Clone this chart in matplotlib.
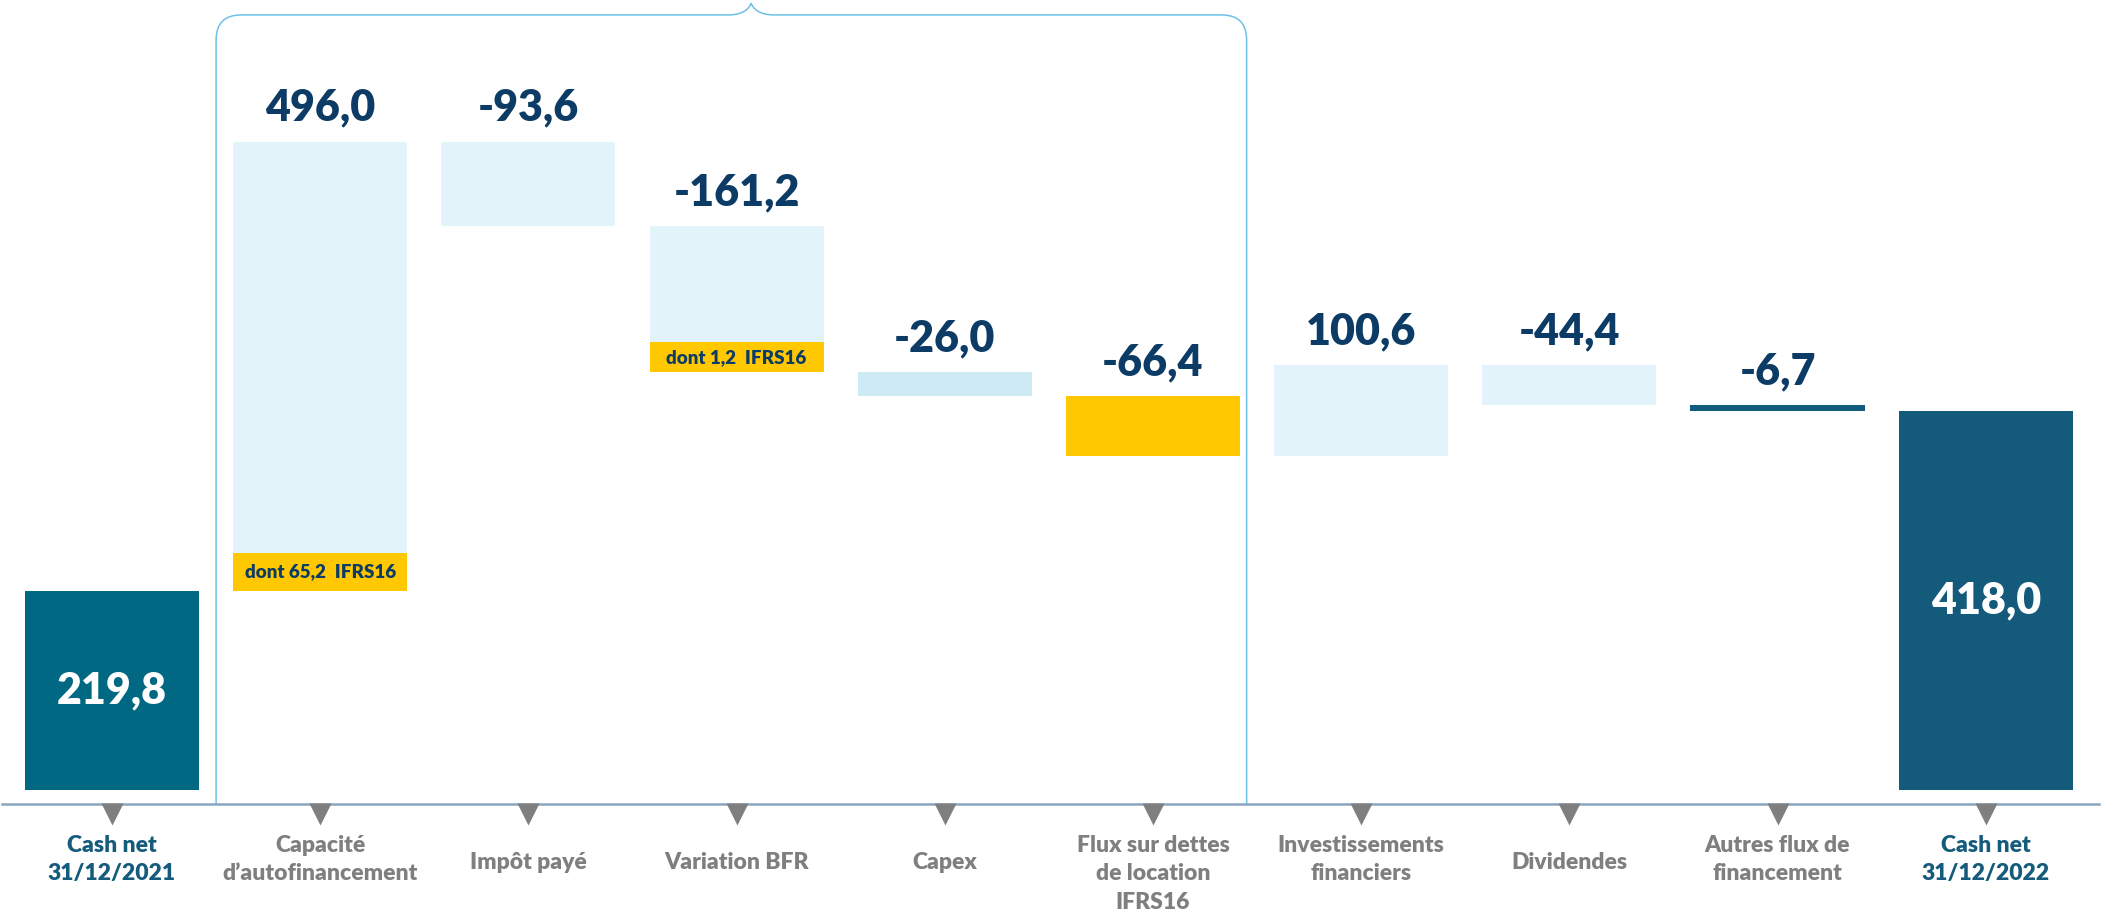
import numpy as np
import matplotlib
matplotlib.use("Agg")
import matplotlib.pyplot as plt
from matplotlib.path import Path
from matplotlib.patches import PathPatch

plt.rcParams['font.family'] = ['Lato', 'DejaVu Sans']

# données (M€)
categories = ["Cash net\n31/12/2021", "Capacité\nd\u2019autofinancement", "Impôt payé",
              "Variation BFR", "Capex", "Flux sur dettes\nde location\nIFRS16",
              "Investissements\nfinanciers", "Dividendes", "Autres flux de\nfinancement",
              "Cash net\n31/12/2022"]
values = [219.8, 496.0, -93.6, -161.2, -26.0, -66.4, 100.6, -44.4, -6.7, 418.0]
is_total = [True, False, False, False, False, False, False, False, False, True]
notes = {1: "dont 65,2  IFRS16", 3: "dont 1,2  IFRS16"}

bar_colors = ['#006882', '#e2f3fa', '#e2f3fa', '#e2f3fa', '#cdeaf5',
              '#ffc800', '#e2f3fa', '#e2f3fa', '#145a7a', '#145a7a']
note_h = {1: 42, 3: 33}
navy = '#0c3c66'
grey = '#7f7f7f'
blue_lbl = '#155b7b'

fig = plt.figure(figsize=(21.05, 9.18), dpi=100)
ax = fig.add_axes([0, 0, 1, 1])
ax.set_xlim(-0.538, 9.573)
ax.set_ylim(-141.3, 872)
ax.axis('off')

x = np.arange(len(values))
w = 0.836

def fmt(v):
    return f"{v:.1f}".replace('.', ',')

running = 0.0
for i, v in enumerate(values):
    if is_total[i]:
        bottom, h = 0, v
        running = v
    else:
        bottom = min(running, running + v)
        h = abs(v)
        running += v
    ax.bar(x[i], h, bottom=bottom, width=w, color=bar_colors[i], linewidth=0)
    if is_total[i]:
        ax.text(x[i], bottom + h / 2, fmt(v), ha='center', va='center',
                color='white', fontsize=31, fontweight='heavy')
    else:
        ax.annotate(fmt(v), (x[i], bottom + h), xytext=(0, 15),
                    textcoords='offset points', ha='center', va='baseline',
                    color=navy, fontsize=31, fontweight='heavy')
    if i in notes:
        ax.bar(x[i], note_h[i], bottom=bottom, width=w, color='#ffc800', linewidth=0)
        ax.text(x[i], bottom + note_h[i] / 2, notes[i], ha='center', va='center',
                color=navy, fontsize=13.5, fontweight='heavy')

# axe et triangles
ax.axhline(-15.5, xmin=0.001, xmax=0.997, color='#8aa5c0', lw=1.8)
ax.plot(x, np.full(len(x), -27), 'v', color=grey, ms=16, mec='none')

for i, lab in enumerate(categories):
    col = blue_lbl if is_total[i] else grey
    if '\n' in lab:
        ax.text(x[i], -50, lab, ha='center', va='top', color=col,
                fontsize=16.5, fontweight='heavy', linespacing=1.42)
    else:
        ax.text(x[i], -80, lab, ha='center', va='center', color=col,
                fontsize=16.5, fontweight='heavy')

# accolade au-dessus des flux opérationnels
xl, xr, xt = 0.5, 5.45, 3.07
yb, yt, ytip = -15.5, 855.5, 868.5
rx, ry = 25 / 208.2, 25 / 0.906
dx = 23 / 208.2
verts = [(xl, yb), (xl, yt - ry), (xl, yt), (xl + rx, yt),
         (xt - dx, yt), (xt - dx * 0.35, yt), (xt - dx * 0.08, ytip - 6), (xt, ytip),
         (xt + dx * 0.08, ytip - 6), (xt + dx * 0.35, yt), (xt + dx, yt),
         (xr - rx, yt), (xr, yt), (xr, yt - ry), (xr, yb)]
codes = [Path.MOVETO, Path.LINETO, Path.CURVE3, Path.CURVE3,
         Path.LINETO, Path.CURVE4, Path.CURVE4, Path.CURVE4,
         Path.CURVE4, Path.CURVE4, Path.CURVE4,
         Path.LINETO, Path.CURVE3, Path.CURVE3, Path.LINETO]
ax.add_patch(PathPatch(Path(verts, codes), fill=False, edgecolor='#6ec0e6', lw=1.1))

fig.savefig('out.png', dpi=100)
